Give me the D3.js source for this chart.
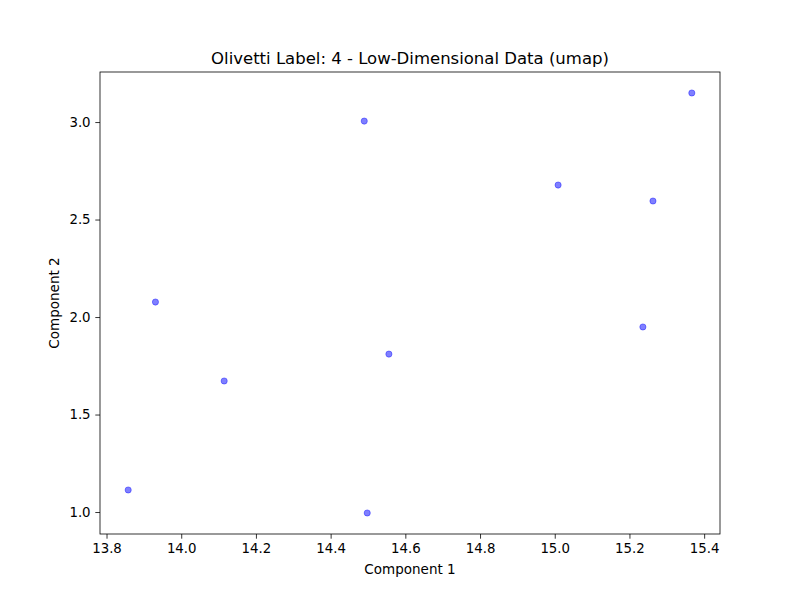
<!DOCTYPE html>
<html>
<head>
<meta charset="utf-8">
<script src="https://cdn.jsdelivr.net/npm/d3@7"></script>
<style>
  body { margin: 0; background: white; }
  text { font-family: "DejaVu Sans", sans-serif; fill: black; }
</style>
</head>
<body>
<div id="chart"></div>
<script>
//----------data----------
const comp1 = [13.858, 13.931, 14.115, 14.490, 14.498, 14.556, 15.009, 15.263, 15.236, 15.367];
const comp2 = [1.113, 2.077, 1.672, 3.005, 0.995, 1.810, 2.677, 2.595, 1.949, 3.149];
const xTicks = [13.8, 14.0, 14.2, 14.4, 14.6, 14.8, 15.0, 15.2, 15.4];
const yTicks = [1.0, 1.5, 2.0, 2.5, 3.0];
const title = "Olivetti Label: 4 - Low-Dimensional Data (umap)";

const width = 800, height = 600;
const margin = {top: 72, right: 80, bottom: 66, left: 100};

const svg = d3.select("#chart").append("svg")
  .attr("width", width)
  .attr("height", height);

// matplotlib style 5% padding around the data
function padded(vals) {
  let [lo, hi] = d3.extent(vals);
  let p = (hi - lo) * 0.05;
  return [lo - p, hi + p];
}

const x = d3.scaleLinear()
  .domain(padded(comp1))
  .range([margin.left, width - margin.right]);

const y = d3.scaleLinear()
  .domain(padded(comp2))
  .range([height - margin.bottom, margin.top]);

// points
svg.append("g")
  .selectAll("circle")
  .data(comp1.map((c, i) => [c, comp2[i]]))
  .join("circle")
  .attr("cx", d => x(d[0]))
  .attr("cy", d => y(d[1]))
  .attr("r", 3.1)
  .attr("fill", "blue")
  .attr("fill-opacity", 0.5)
  .attr("stroke", "blue")
  .attr("stroke-opacity", 0.5)
  .attr("stroke-width", 0.8);

// axes
const xAxis = svg.append("g")
  .attr("transform", `translate(0,${height - margin.bottom})`)
  .call(d3.axisBottom(x).tickValues(xTicks).tickFormat(d3.format(".1f"))
    .tickSizeInner(4.7).tickSizeOuter(0).tickPadding(4.7));

const yAxis = svg.append("g")
  .attr("transform", `translate(${margin.left},0)`)
  .call(d3.axisLeft(y).tickValues(yTicks).tickFormat(d3.format(".1f"))
    .tickSizeInner(4.7).tickSizeOuter(0).tickPadding(4.7));

[xAxis, yAxis].forEach(g => {
  g.select(".domain").remove();
  g.selectAll(".tick line").attr("stroke", "black").attr("stroke-width", 0.8);
  g.selectAll(".tick text")
    .attr("font-family", "DejaVu Sans, sans-serif")
    .attr("font-size", 13.33)
    .attr("fill", "black");
});

// frame
svg.append("rect")
  .attr("x", margin.left)
  .attr("y", margin.top)
  .attr("width", width - margin.left - margin.right)
  .attr("height", height - margin.top - margin.bottom)
  .attr("fill", "none")
  .attr("stroke", "black")
  .attr("stroke-width", 0.8);

// labels
svg.append("text")
  .attr("x", (margin.left + width - margin.right) / 2)
  .attr("y", 64)
  .attr("text-anchor", "middle")
  .attr("font-size", 16.5)
  .text(title);

svg.append("text")
  .attr("x", (margin.left + width - margin.right) / 2)
  .attr("y", 574)
  .attr("text-anchor", "middle")
  .attr("font-size", 13.5)
  .text("Component 1");

svg.append("text")
  .attr("transform", `translate(59,${(margin.top + height - margin.bottom) / 2}) rotate(-90)`)
  .attr("text-anchor", "middle")
  .attr("font-size", 13.5)
  .text("Component 2");
</script>
</body>
</html>
